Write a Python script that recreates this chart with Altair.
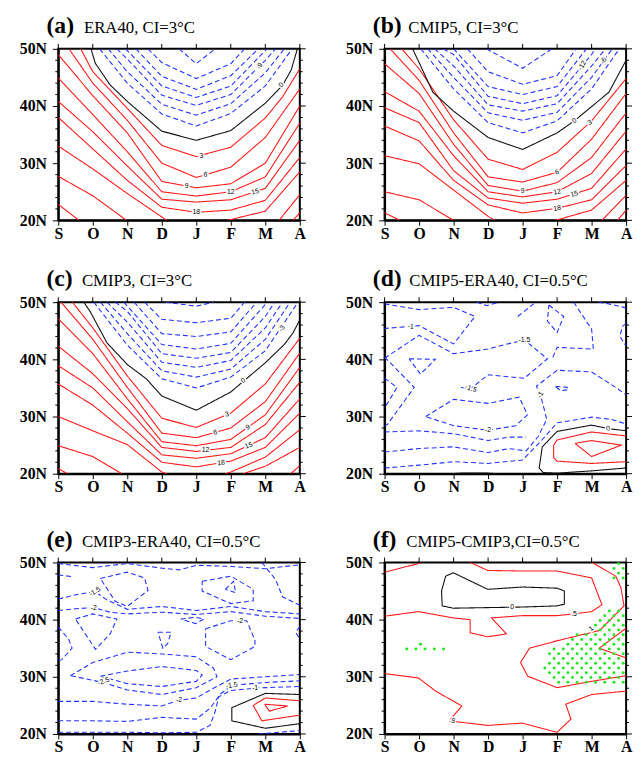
import json
import altair as alt
import numpy as np
import pandas as pd

# ---------------- axes / ticks ----------------
MONTHS = ["S", "O", "N", "D", "J", "F", "M", "A"]
MONTH_POS = list(range(len(MONTHS)))
LAT_MAJOR = [20, 30, 40, 50]
LAT_MINOR = [22, 24, 26, 28, 32, 34, 36, 38, 42, 44, 46, 48]

TITLES = {
    "a": ("(a)", "ERA40, CI=3°C"),
    "b": ("(b)", "CMIP5, CI=3°C"),
    "c": ("(c)", "CMIP3, CI=3°C"),
    "d": ("(d)", "CMIP5-ERA40, CI=0.5°C"),
    "e": ("(e)", "CMIP3-ERA40, CI=0.5°C"),
    "f": ("(f)", "CMIP5-CMIP3,CI=0.5°C"),
}

# ---------------- contour polylines: (month index, latitude) ----------------
# Panel (a) ERA40
A_POS = [
    [(0.65, 50), (1, 46.0), (2, 39.6), (3, 33.1), (4, 31.15), (5, 32.8), (6, 37.9), (6.5, 41.6), (7, 46.5)],
    [(0.31, 50), (1, 44.0), (2, 37.5), (3, 30.0), (4, 27.5), (5, 29.3), (6, 34.5), (7, 43.0)],
    [(0, 49.0), (1, 41.8), (2, 35.3), (3, 26.8), (4, 25.7), (5, 26.4), (6, 30.0), (7, 40.0)],
    [(0, 44.9), (1, 38.5), (2, 32.0), (3, 25.0), (4, 24.25), (5, 25.0), (6, 27.6), (7, 37.0)],
    [(0, 40.8), (1, 35.5), (2, 29.5), (3, 23.7), (4, 23.2), (5, 23.6), (6, 25.6), (7, 34.0)],
    [(0, 38.0), (1, 32.5), (2, 27.0), (3, 22.3), (4, 21.4), (5, 21.8), (6, 23.5), (7, 31.0)],
    [(0, 33.0), (1, 29.0), (2, 24.7), (3, 20.6), (3.15, 20)],
    [(4.9, 20), (6, 21.6), (7, 28.5)],
    [(0, 27.7), (1, 24.3), (1.98, 20)],
    [(6.4, 20), (7, 24.5)],
    [(0, 22.8), (0.6, 20)],
    [(6.8, 20), (7, 21.3)],
]
A_ZERO = [
    [(0.95, 50), (1.07, 47.5), (1.5, 43.7), (2, 40.8), (2.5, 38.2), (3, 35.6), (4, 34.0), (5, 35.7),
     (6, 40.5), (6.5, 43.6), (6.75, 46.3), (6.93, 50)],
]
A_NEG = [
    [(1.2, 50), (2, 44.0), (3, 38.6), (4, 36.5), (5, 38.7), (6, 43.5), (6.78, 50)],
    [(1.45, 50), (2, 46.0), (3, 40.3), (4, 38.4), (5, 40.4), (6, 45.8), (6.55, 50)],
    [(1.7, 50), (2, 48.2), (3, 41.9), (4, 40.1), (5, 42.0), (6, 48.0), (6.3, 50)],
    [(1.95, 50), (3, 43.5), (4, 41.5), (5, 43.5), (6.05, 50)],
    [(2.25, 50), (3, 45.2), (4, 42.9), (5, 45.3), (5.8, 50)],
    [(2.6, 50), (3, 47.6), (4, 44.8), (5, 47.4), (5.4, 50)],
    [(3.5, 50), (4, 47.4), (4.55, 50)],
]
A_LABELS = [("3", 4.15, 31.2, 0), ("6", 4.27, 28.0, 10), ("9", 3.72, 26.0, 0), ("12", 5.0, 25.0, 0),
            ("15", 5.71, 25.0, 345), ("18", 4.0, 21.4, 0), ("0", 6.46, 43.7, 305), ("-9", 5.84, 47.0, 300)]

# Panel (b) CMIP5
B_POS = [
    [(0.5, 50), (1, 46.5), (2, 37.6), (3, 30.7), (4, 28.9), (5, 31.9), (6, 37.4), (7, 44.8)],
    [(0.16, 50), (1, 44.5), (2, 35.3), (3, 27.6), (4, 26.7), (5, 28.4), (6, 34.2), (7, 42.2)],
    [(0, 47.4), (1, 42.2), (2, 33.3), (3, 26.1), (4, 25.1), (5, 26.6), (6, 31.0), (7, 38.8)],
    [(0, 42.5), (1, 39.1), (2, 31.3), (3, 25.0), (4, 24.1), (5, 25.0), (6, 28.2), (7, 35.6)],
    [(0, 39.7), (1, 37.1), (2, 28.7), (3, 23.9), (4, 23.0), (5, 23.7), (6, 25.6), (7, 32.5)],
    [(0, 36.5), (1, 33.9), (2, 27.0), (3, 22.7), (4, 21.3), (5, 22.1), (6, 23.6), (7, 29.6)],
    [(0, 31.3), (1, 29.9), (2, 25.3), (3, 20.7), (3.2, 20)],
    [(4.95, 20), (6, 21.8), (7, 27.0)],
    [(0, 25.0), (1, 23.6), (2.0, 20)],
    [(6.3, 20), (7, 24.4)],
    [(0, 21.3), (0.45, 20)],
    [(6.75, 20), (7, 21.8)],
]
B_ZERO = [
    [(0.81, 50), (1, 47.6), (1.4, 42.4), (2, 39.1), (3, 34.5), (4, 32.4), (5, 35.3), (5.5, 37.4),
     (6, 39.9), (6.5, 42.4), (7, 48.0)],
]
B_NEG = [
    [(1.05, 50), (2, 43.0), (3, 37.1), (4, 35.3), (5, 37.4), (6, 43.0), (6.8, 50)],
    [(1.25, 50), (2, 45.0), (3, 38.8), (4, 37.5), (5, 38.9), (6, 45.0), (6.6, 50)],
    [(1.45, 50), (2, 47.0), (3, 40.2), (4, 39.1), (5, 40.4), (6, 47.0), (6.4, 50)],
    [(1.7, 50), (2, 49.0), (3, 41.7), (4, 40.4), (5, 41.8), (6, 49.0), (6.1, 50)],
    [(2.0, 50), (3, 43.4), (4, 42.0), (5, 43.4), (5.85, 50)],
    [(2.4, 50), (3, 46.0), (4, 43.8), (5, 45.3), (5.55, 50)],
    [(2.95, 50), (4, 46.6), (4.85, 50)],
]
B_LABELS = [("0", 5.5, 37.4, 330), ("3", 5.95, 37.1, 330), ("6", 5.0, 28.4, 340), ("9", 4.0, 25.1, 0),
            ("12", 5.0, 25.0, 350), ("15", 5.5, 24.6, 345), ("18", 5.0, 22.1, 350),
            ("-12", 5.73, 47.1, 300), ("-6", 6.35, 47.9, 300)]

# Panel (c) CMIP3
C_POS = [
    [(0.41, 50), (1, 45.5), (2, 37.1), (3, 29.7), (4, 28.1), (5, 30.6), (6, 35.7), (7, 43.7)],
    [(0.08, 50), (1, 43.5), (2, 35.1), (3, 27.1), (4, 26.3), (5, 28.0), (6, 32.6), (7, 41.1)],
    [(0, 47.1), (1, 41.0), (2, 33.1), (3, 25.6), (4, 24.9), (5, 26.0), (6, 30.3), (7, 38.6)],
    [(0, 42.3), (1, 37.5), (2, 31.4), (3, 24.6), (4, 23.9), (5, 24.6), (6, 28.6), (7, 36.0)],
    [(0, 38.9), (1, 35.0), (2, 29.1), (3, 23.3), (4, 22.7), (5, 23.5), (6, 26.3), (7, 33.1)],
    [(0, 35.7), (1, 32.0), (2, 27.1), (3, 22.0), (4, 21.2), (5, 22.2), (6, 24.6), (7, 30.6)],
    [(0, 30.0), (1, 27.5), (2, 25.1), (3, 20.3), (3.15, 20)],
    [(4.85, 20), (5, 20.3), (6, 22.9), (7, 27.7)],
    [(0, 24.9), (1, 23.0), (1.84, 20)],
    [(5.36, 20), (6, 21.3), (7, 24.6)],
    [(0, 20.9), (0.27, 20)],
    [(6.74, 20), (7, 21.4)],
]
C_ZERO = [
    [(0.74, 50), (0.93, 48.3), (1.41, 42.9), (2, 39.1), (2.55, 36.6), (3, 33.6), (4, 31.1), (5, 34.3),
     (6, 39.4), (6.55, 42.6), (6.8, 44.6), (7, 46.9)],
]
C_NEG = [
    [(1.03, 50), (2, 42.5), (3, 36.6), (4, 35.0), (5, 36.9), (6, 41.5), (6.95, 50)],
    [(1.22, 50), (2, 44.5), (3, 38.0), (4, 36.9), (5, 38.3), (6, 43.5), (6.72, 50)],
    [(1.41, 50), (2, 46.5), (3, 39.5), (4, 38.6), (5, 39.8), (6, 45.5), (6.5, 50)],
    [(1.65, 50), (2, 48.4), (3, 41.0), (4, 40.2), (5, 41.2), (6, 47.5), (6.27, 50)],
    [(1.9, 50), (3, 42.6), (4, 41.8), (5, 42.8), (6, 49.6), (6.05, 50)],
    [(2.2, 50), (3, 44.5), (4, 44.0), (5, 44.8), (5.75, 50)],
    [(2.5, 50), (3, 47.0), (4, 46.4), (5, 47.2), (5.4, 50)],
    [(3.1, 50), (4, 49.3), (4.5, 50)],
]
C_LABELS = [("0", 5.36, 36.3, 325), ("3", 4.89, 30.4, 345), ("6", 4.55, 27.2, 350), ("9", 5.5, 28.1, 330),
            ("12", 4.27, 24.1, 0), ("15", 5.52, 24.9, 340), ("18", 4.72, 21.9, 355), ("-3", 6.48, 45.4, 300)]

# Panel (d) CMIP5-ERA40
D_POS = [
    [(7, 26.6), (6.0, 27.3), (5.0, 25.9), (4.9, 25.0), (4.9, 22.8), (5.0, 22.2), (6.0, 21.8), (7, 22.1)],
    [(5.52, 25.3), (6.0, 25.8), (6.86, 25.0), (6.0, 23.0), (5.52, 25.3)],
]
D_ZERO = [
    [(7, 27.5), (6.48, 27.9), (6.0, 28.5), (5.0, 27.4), (4.57, 24.7), (4.48, 21.0), (4.6, 20.2), (5.0, 20.1),
     (6.0, 20.5), (7, 21.0)],
    [(1.9, 20), (2.2, 20.1), (3.0, 20.1), (3.3, 20)],
]
D_NEG = [
    [(0, 49.7), (1, 48.7), (2, 49.1), (2.62, 47.5), (2.0, 42.7), (1, 45.9), (0, 45.4)],
    [(2.67, 50), (2.95, 49.4), (3.33, 50)],
    [(0, 40.2), (1, 44.2), (2, 41.0), (3, 41.8), (3.5, 42.6), (4.05, 43.4), (4.72, 40.1), (4.05, 36.7),
     (3.0, 37.3), (2.5, 34.9), (2.2, 35.1)],
    [(0.71, 40.1), (1.47, 40.0), (1.04, 37.4), (0.71, 40.1)],
    [(0, 36.7), (0.36, 35.1), (0, 31.5)],
    [(0, 40.4), (0.86, 35.1), (0.08, 28.6), (0, 28.4)],
    [(1.19, 30.0), (2.0, 33.0), (3.0, 32.3), (3.9, 33.4), (4.14, 30.3), (3.8, 28.4), (3.0, 27.6), (2.0, 28.4),
     (1.19, 30.0)],
    [(3.86, 47.5), (4.38, 50)],
    [(5.48, 50), (6.0, 45.3), (6.05, 41.8), (5.0, 42.1), (4.85, 40.0)],
    [(0, 27.3), (1, 27.5), (2, 27.0), (3, 25.8), (3.6, 26.4), (4.1, 26.4)],
    [(0, 23.8), (1, 24.4), (2, 24.7), (3, 23.7), (3.6, 24.4), (4.1, 24.0), (4.45, 26.5), (4.7, 29.5),
     (4.52, 33.8), (4.4, 35.3), (5.0, 38.1), (6.0, 37.8), (6.72, 35.0), (7, 33.8)],
    [(0, 21.0), (1, 21.5), (2, 22.1), (3, 21.8), (4, 22.4), (4.5, 25.5), (5.0, 28.9), (6.0, 29.9),
     (6.57, 29.5), (7, 28.7)],
    [(4.95, 35.3), (5.29, 35.1), (5.33, 34.7), (5.1, 34.5), (4.95, 35.3)],
    [(4.76, 49.5), (5.19, 47.5), (5.0, 44.7), (4.72, 46.7), (4.76, 49.5)],
    [(7, 46.3), (6.9, 45.8), (6.82, 44.1), (6.95, 42.7), (7, 42.5)],
    [(6.2, 50), (6.5, 49.7), (7, 49.0)],
]
D_LABELS = [("-1", 0.76, 45.7, 5), ("-1.5", 4.05, 43.4, 0), ("-1.5", 2.5, 34.9, 20), ("-2", 3.0, 27.6, 0),
            ("-1", 4.52, 33.8, 300), ("0", 6.48, 27.9, 350)]

# Panel (e) CMIP3-ERA40
E_POS = [
    [(7, 25.8), (6, 26.3), (5.65, 25.0), (5.9, 22.3), (7, 23.3)],
    [(5.98, 25.2), (6.65, 24.9), (6.12, 24.0), (5.98, 25.2)],
]
E_ZERO = [
    [(7, 26.9), (6, 27.1), (5.03, 24.6), (5.03, 22.3), (6, 21.0), (7, 21.8)],
]
E_NEG = [
    [(0, 49.8), (1, 49.1), (2, 49.8), (3, 49.0), (3.5, 48.7), (4, 49.5), (5, 49.3), (6, 48.9), (7, 49.6)],
    [(0, 47.8), (0.45, 47.5)],
    [(1.22, 47.2), (2.0, 48.3), (2.5, 47.3), (2.6, 45.1), (2.0, 42.3), (1.65, 43.2), (1.22, 47.2)],
    [(0, 43.6), (0.55, 44.4), (1.06, 44.9), (1.4, 43.5), (2, 41.8), (3, 42.3), (4, 41.6), (5, 42.3),
     (6, 41.4), (7, 41.0)],
    [(0, 41.6), (0.5, 41.9), (1.03, 42.1), (1.5, 41.3), (2, 41.0), (3, 41.3), (4, 40.9), (5, 41.4),
     (6, 40.6), (7, 40.2)],
    [(0.5, 40.1), (1.0, 41.0), (1.7, 40.1), (1.5, 37.5), (1.08, 34.8), (0.5, 40.1)],
    [(3.55, 40.1), (3.98, 40.4), (4.22, 40.1), (3.98, 39.3), (3.55, 40.1)],
    [(2.89, 37.8), (3.27, 37.8), (3.17, 35.8), (3.03, 35.0), (2.89, 37.8)],
    [(4.27, 38.4), (5, 39.8), (5.46, 39.8), (5.7, 36.4), (5.7, 35.3), (5, 33.0), (4.27, 35.3), (4.27, 38.4)],
    [(4.17, 46.7), (5, 47.6), (5.65, 45.3), (5.65, 43.3), (5, 42.8), (4.17, 45.0), (4.17, 46.7)],
    [(4.84, 45.3), (5.08, 46.7), (5.14, 44.7), (4.84, 45.3)],
    [(5.9, 50), (6.3, 47.0), (6.5, 44.0), (7, 42.5)],
    [(7, 38.8), (6.88, 37.8), (7, 36.6)],
    [(0, 38.7), (0.3, 36.6), (0.4, 35.0), (0.1, 33.0), (0, 32.8)],
    [(0.35, 30.2), (1, 32.5), (2, 34.3), (3, 34.0), (4, 33.5), (4.5, 31.5), (4.6, 30.0), (4, 28.1), (3, 26.9),
     (2, 27.7), (1.31, 29.0), (0.35, 30.2)],
    [(1.22, 30.1), (2, 31.0), (3, 31.8), (4, 31.1), (4.17, 30.3), (4, 29.2), (3, 28.3), (2, 28.8), (1.22, 30.1)],
    [(0, 25.7), (1, 25.7), (2, 25.2), (3, 24.9), (3.5, 25.9), (4, 26.3), (4.5, 28.0), (5, 29.6), (6, 30.0),
     (7, 30.4)],
    [(0, 22.3), (1, 22.3), (2, 22.2), (3, 22.9), (4, 22.6), (4.4, 24.5), (4.7, 27.0), (5.03, 28.5), (6, 29.0),
     (7, 29.3)],
    [(0, 20.3), (1, 20.3), (2, 20.3), (3, 20.2), (4, 20.3), (4.4, 21.5), (4.55, 24.0), (4.65, 26.5), (5.0, 27.6),
     (5.7, 28.0), (6, 28.1), (7, 28.3)],
    [(5.8, 20), (7, 20.6)],
]
E_LABELS = [("-1.5", 1.06, 44.9, 330), ("-2", 1.03, 42.1, 0), ("-2", 5.27, 39.8, 0), ("-2.5", 1.31, 29.2, 340),
            ("-2", 3.5, 25.9, 0), ("-1.5", 5.03, 28.5, 350), ("-1", 5.7, 28.0, 0)]

# Panel (f) CMIP5-CMIP3
F_POS = [
    [(0, 48.3), (0.98, 49.8), (1.05, 50)],
    [(2.48, 50), (2.99, 48.6), (3.99, 48.5), (5.0, 48.5), (6.0, 47.3), (6.3, 42.6), (6.0, 41.4), (5.49, 41.0),
     (5.0, 40.7), (3.99, 40.7), (3.1, 40.3), (3.53, 37.5), (2.99, 37.0), (2.48, 37.7), (2.48, 40.0),
     (1.99, 40.3), (0.98, 41.4), (0, 40.6)],
    [(0, 30.55), (0.98, 29.8), (1.48, 27.5), (2.24, 24.9), (1.91, 22.6), (2.0, 22.2), (2.99, 21.5), (3.99, 21.9),
     (5.0, 20.3), (5.4, 22.6), (5.25, 25.2), (6.0, 26.9), (7, 27.5)],
    [(6.02, 50), (6.7, 47.6), (6.85, 45.6), (6.94, 42.4), (6.23, 38.1), (5.0, 36.3), (4.2, 35.0), (3.94, 32.5),
     (4.15, 30.1), (5.0, 28.1), (6.0, 29.2), (7, 30.2)],
    [(7, 38.5), (6.22, 35.0), (7, 33.3)],
]
F_ZERO = [
    [(1.77, 47.6), (1.99, 48.2), (2.99, 45.3), (3.99, 45.7), (5.0, 45.5), (5.21, 45.0), (5.21, 42.7), (5.0, 42.4),
     (3.99, 42.2), (1.99, 42.0), (1.67, 42.4), (1.65, 45.0), (1.77, 47.6)],
]
F_NEG = []
F_LABELS = [("0", 3.7, 42.2, 0), (".5", 5.49, 41.0, 0), ("1", 5.99, 38.4, 320), (".5", 1.96, 22.3, 20)]
# significance (stippled) regions of panel (f)
F_SIG = [
    [(6.5, 50.3), (7.0, 50.3), (7.0, 47.2), (6.6, 47.2)],
    [(6.54, 42.3), (7.0, 42.3), (7.0, 29.0), (5.1, 28.6), (4.8, 29.5), (4.55, 31.8), (4.73, 33.8), (5.0, 35.4),
     (5.5, 37.4), (6.07, 39.4), (6.35, 40.8)],
    [(0.55, 34.4), (1.8, 34.4), (1.8, 35.3), (1.2, 35.3), (1.15, 36.1), (0.9, 36.1), (0.9, 35.3), (0.55, 35.3)],
]

# ---------------- styling ----------------
W, H = 245, 174
RED, BLUE, BLACK, GREEN = "#ff1a1a", "#2233ff", "#111111", "#22e622"
SERIF = "Liberation Serif"
XS = alt.Scale(domain=[0, 7], nice=False, zero=False)
YS = alt.Scale(domain=[20, 50], nice=False, zero=False)
TITLE_TEXT_X = {"a": 26, "b": 24, "c": 24, "d": 25, "e": 24, "f": 22}

# stipple texture (fill pattern) of the significance regions
DOT_LAT0, DOT_DLAT, DOT_M0, DOT_DM = 34.85, 0.83, 0.64, 0.267


def inside(px, py, poly):
    res = False
    n = len(poly)
    for k in range(n):
        x1, y1 = poly[k]
        x2, y2 = poly[(k + 1) % n]
        if (y1 > py) != (y2 > py):
            xc = x1 + (py - y1) * (x2 - x1) / (y2 - y1)
            if px < xc:
                res = not res
    return res


def stipple(polys):
    pts = []
    for j in range(-20, 22):
        lat = DOT_LAT0 + j * DOT_DLAT
        if lat < 20.2 or lat > 49.9:
            continue
        for k in range(-5, 30):
            m = DOT_M0 + (j % 2) * DOT_DM / 2 + k * DOT_DM
            if m < 0.05 or m > 6.95:
                continue
            if any(inside(m, lat, p) for p in polys):
                pts.append({"m": m, "lat": lat})
    return pd.DataFrame(pts)


def to_df(lines):
    rows = []
    for lid, line in enumerate(lines):
        for i, (m, lat) in enumerate(line):
            rows.append({"lid": lid, "i": i, "m": m, "lat": lat})
    return pd.DataFrame(rows)


label_expr = json.dumps(MONTHS) + "[datum.value]"
XAX = alt.Axis(values=MONTH_POS, labelExpr=label_expr, title=None, grid=False, tickSize=5,
               tickColor="black", labelFont=SERIF, labelFontWeight="bold", labelFontSize=16,
               labelColor="black", labelPadding=0, labelFlush=False, labelOverlap=False,
               domainColor="black", domainWidth=2)
YAX = alt.Axis(values=LAT_MAJOR, labelExpr="datum.value + 'N'", title=None, grid=False, tickSize=6,
               tickColor="black", labelFont=SERIF, labelFontWeight="bold", labelFontSize=16,
               labelColor="black", labelPadding=6, labelFlush=False, labelOverlap=False,
               domainColor="black", domainWidth=2)


def X(field="m"):
    return alt.X(f"{field}:Q", scale=XS, axis=XAX)


def Y(field="lat"):
    return alt.Y(f"{field}:Q", scale=YS, axis=YAX)


def panel(key, pos, zero, neg, labels, sig=None):
    layers = []
    for lines, color, dash in ((pos, RED, [1, 0]), (zero, BLACK, [1, 0]), (neg, BLUE, [5, 3])):
        if not lines:
            continue
        layers.append(alt.Chart(to_df(lines)).mark_line(color=color, strokeWidth=1.1, strokeDash=dash,
                                                        clip=True).encode(
            x=X(), y=Y(), detail="lid:N", order="i:Q"))
    if sig:
        layers.append(alt.Chart(stipple(sig)).mark_circle(size=9, color=GREEN, opacity=1).encode(x=X(), y=Y()))
    ldf = pd.DataFrame(labels, columns=["t", "m", "lat", "ang"])
    layers.append(alt.Chart(ldf).mark_text(font="Liberation Sans", fontSize=7, color="white", stroke="white",
                                           strokeWidth=3).encode(
        x=X(), y=Y(), text="t:N", angle=alt.Angle("ang:Q", scale=None)))
    layers.append(alt.Chart(ldf).mark_text(font="Liberation Sans", fontSize=7, color="black").encode(
        x=X(), y=Y(), text="t:N", angle=alt.Angle("ang:Q", scale=None)))
    # extra ticks: top majors, right majors, minor latitude ticks on both sides
    layers.append(alt.Chart(pd.DataFrame({"m": MONTH_POS})).mark_rule(color="black").encode(
        x=X(), y=alt.value(-5), y2=alt.value(0)))
    layers.append(alt.Chart(pd.DataFrame({"lat": LAT_MAJOR})).mark_rule(color="black").encode(
        y=Y(), x=alt.value(W), x2=alt.value(W + 6)))
    layers.append(alt.Chart(pd.DataFrame({"lat": LAT_MINOR})).mark_rule(color="black").encode(
        y=Y(), x=alt.value(-3), x2=alt.value(0)))
    layers.append(alt.Chart(pd.DataFrame({"lat": LAT_MINOR})).mark_rule(color="black").encode(
        y=Y(), x=alt.value(W), x2=alt.value(W + 3)))
    # panel title
    letter, text = TITLES[key]
    layers.append(alt.Chart(pd.DataFrame({"t": [letter]})).mark_text(
        align="left", baseline="alphabetic", font=SERIF, fontSize=24, fontWeight="bold", color="black").encode(
        text="t:N", x=alt.value(-12), y=alt.value(-16)))
    layers.append(alt.Chart(pd.DataFrame({"t": [text]})).mark_text(
        align="left", baseline="alphabetic", font=SERIF, fontSize=17, color="black").encode(
        text="t:N", x=alt.value(TITLE_TEXT_X[key]), y=alt.value(-16)))
    return alt.layer(*layers).properties(width=W, height=H)


pa = panel("a", A_POS, A_ZERO, A_NEG, A_LABELS)
pb = panel("b", B_POS, B_ZERO, B_NEG, B_LABELS)
pc = panel("c", C_POS, C_ZERO, C_NEG, C_LABELS)
pd_ = panel("d", D_POS, D_ZERO, D_NEG, D_LABELS)
pe = panel("e", E_POS, E_ZERO, E_NEG, E_LABELS)
pf = panel("f", F_POS, F_ZERO, F_NEG, F_LABELS, sig=F_SIG)

HS = 37
row1 = alt.hconcat(pa, pb, spacing=HS)
row2 = alt.hconcat(pc, pd_, spacing=HS)
row3 = alt.hconcat(pe, pf, spacing=HS)
chart = alt.vconcat(row1, alt.vconcat(row2, row3, spacing=32), spacing=25).properties(
    padding={"left": 10, "top": 0, "right": 0, "bottom": 0}, background="white"
).configure_view(stroke="black", strokeWidth=2)

chart.save("out.html", embed_options={"renderer": "svg", "actions": False})
